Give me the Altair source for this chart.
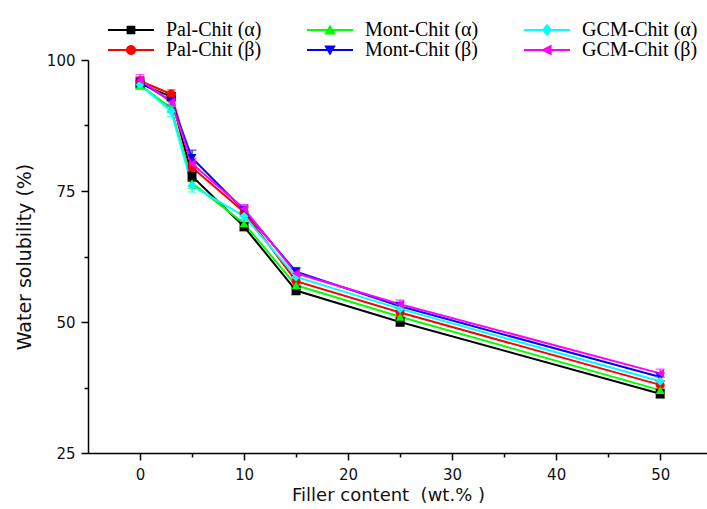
import math
import altair as alt
import pandas as pd

# ---------------- data ----------------
filler = [0, 3, 5, 10, 15, 25, 50]

pal_a = [95.5, 93.0, 77.8, 68.2, 56.0, 50.0, 36.3]
pal_b = [96.0, 93.5, 79.5, 71.0, 57.8, 51.8, 38.0]
mont_a = [95.2, 90.8, 76.5, 68.8, 57.0, 51.0, 37.0]
mont_b = [95.8, 92.2, 81.3, 71.3, 59.6, 53.0, 39.5]
gcm_a = [95.3, 90.2, 76.0, 70.2, 58.6, 52.5, 38.7]
gcm_b = [96.2, 92.0, 80.2, 71.6, 59.3, 53.4, 40.2]

err_pal_a = [1.0, 0.8, 1.0, 0.8, 0.8, 0.8, 0.8]
err_pal_b = [0.8, 0.8, 1.0, 0.8, 0.8, 0.8, 0.8]
err_mont_a = [0.8, 0.8, 1.0, 0.8, 0.8, 0.8, 0.8]
err_mont_b = [0.8, 0.8, 1.5, 0.8, 0.8, 0.8, 0.8]
err_gcm_a = [0.8, 1.0, 1.2, 0.8, 0.8, 0.8, 0.8]
err_gcm_b = [1.0, 0.8, 1.0, 0.8, 0.8, 0.8, 0.8]

series_data = [
    ("Pal-Chit (α)", pal_a, err_pal_a),
    ("Pal-Chit (β)", pal_b, err_pal_b),
    ("Mont-Chit (α)", mont_a, err_mont_a),
    ("Mont-Chit (β)", mont_b, err_mont_b),
    ("GCM-Chit (α)", gcm_a, err_gcm_a),
    ("GCM-Chit (β)", gcm_b, err_gcm_b),
]

# legend order (entries fill the 3 columns top-to-bottom)
legend_order = ["Pal-Chit (α)", "Pal-Chit (β)", "Mont-Chit (α)",
                "Mont-Chit (β)", "GCM-Chit (α)", "GCM-Chit (β)"]
colors = ["#000000", "#FF0000", "#00FF00", "#0000FF", "#00FFFF", "#FF00FF"]
shapes = ["square", "circle", "triangle-up", "triangle-down", "diamond", "triangle-left"]

x_major = [0, 10, 20, 30, 40, 50]
x_minor = [5, 15, 25, 35, 45]
y_major = [25, 50, 75, 100]
y_minor = [37.5, 62.5, 87.5]

rows = []
for name, vals, errs in series_data:
    for x, v, e in zip(filler, vals, errs):
        rows.append({"series": name, "filler": x, "value": v, "lo": v - e, "hi": v + e})
df = pd.DataFrame(rows)

# ---------------- legend symbols: line + marker as one path ----------------
LINE = "M-1,-0.045H1V0.045H-1Z"


def poly(pts):
    return "M" + "L".join(f"{x:.3f},{y:.3f}" for x, y in pts) + "Z"


circle_pts = [(0.22 * math.cos(2 * math.pi * k / 20), 0.22 * math.sin(2 * math.pi * k / 20)) for k in range(20)]
marker_paths = {
    "square": "M-0.19,-0.19H0.19V0.19H-0.19Z",
    "circle": poly(circle_pts),
    "triangle-up": poly([(0, -0.24), (0.25, 0.2), (-0.25, 0.2)]),
    "triangle-down": poly([(0, 0.24), (-0.25, -0.2), (0.25, -0.2)]),
    "diamond": poly([(0, -0.27), (0.22, 0), (0, 0.27), (-0.22, 0)]),
    "triangle-left": poly([(-0.26, 0), (0.2, -0.24), (0.2, 0.24)]),
}
legend_paths = [LINE + marker_paths[s] for s in shapes]

# ---------------- scales ----------------
xs = alt.Scale(domain=[-5, 54.5], nice=False, zero=False)
ys = alt.Scale(domain=[25, 100], nice=False, zero=False)
cscale = alt.Scale(domain=legend_order, range=colors)

axis_common = dict(
    grid=False, domainColor="black", domainWidth=1.5, tickColor="black", tickWidth=1.5,
    labelFont="DejaVu Sans", labelFontSize=15, labelColor="#111111",
    titleFont="DejaVu Sans", titleFontWeight="normal", titleColor="#111111",
)

x_axis_major = alt.Axis(orient="bottom", values=x_major, tickSize=7, labelPadding=7,
                        title="Filler content\u00a0 (wt.%\u00a0)", titleFontSize=18,
                        titlePadding=4, titleX=300, titleAlign="center", **axis_common)
y_axis_major = alt.Axis(orient="left", values=y_major, tickSize=7, labelPadding=6,
                        title="Water solubility (%)", titleFontSize=19, titlePadding=12,
                        **axis_common)
x_axis_minor = alt.Axis(orient="bottom", values=x_minor, tickSize=4, labels=False, domain=False,
                        title=None, grid=False, tickColor="black", tickWidth=1.5)
y_axis_minor = alt.Axis(orient="left", values=y_minor, tickSize=4, labels=False, domain=False,
                        title=None, grid=False, tickColor="black", tickWidth=1.5)

base = alt.Chart(df)

lines = base.mark_line(strokeWidth=2).encode(
    x=alt.X("filler:Q", scale=xs, axis=x_axis_major),
    y=alt.Y("value:Q", scale=ys, axis=y_axis_major),
    color=alt.Color("series:N", scale=cscale, legend=None),
    order=alt.Order("filler:Q"),
)

errs = base.mark_errorbar(ticks=True, size=9, thickness=1.2).encode(
    x=alt.X("filler:Q", scale=xs, axis=None),
    y=alt.Y("lo:Q", scale=ys, axis=None),
    y2="hi:Q",
    color=alt.Color("series:N", scale=cscale, legend=None),
)

pts = base.mark_point(filled=True, size=80, opacity=1).encode(
    x=alt.X("filler:Q", scale=xs, axis=None),
    y=alt.Y("value:Q", scale=ys, axis=None),
    color=alt.Color("series:N", scale=cscale, legend=None),
    shape=alt.Shape("series:N", scale=alt.Scale(domain=legend_order, range=shapes), legend=None),
)

leg = alt.Legend(
    title=None, orient="none", legendX=20, legendY=-39, columns=3,
    columnPadding=45, rowPadding=0, clipHeight=18, symbolSize=2116,
    symbolStrokeWidth=0, symbolOpacity=1, labelFont="Liberation Serif",
    labelFontSize=20, labelColor="black", labelOffset=12, padding=0, labelLimit=400,
)

legend_layer = base.transform_filter("datum.filler < -100").mark_point(filled=True, opacity=1).encode(
    x=alt.X("filler:Q", scale=xs, axis=x_axis_minor),
    y=alt.Y("value:Q", scale=ys, axis=y_axis_minor),
    color=alt.Color("series:N", scale=cscale, legend=leg),
    shape=alt.Shape("series:N", scale=alt.Scale(domain=legend_order, range=legend_paths), legend=leg),
)

chart = (
    alt.layer(lines, errs, pts, legend_layer)
    .resolve_scale(color="independent", shape="independent")
    .resolve_axis(x="independent", y="independent")
    .properties(
        width=619, height=393,
        autosize=alt.AutoSizeParams(type="none"),
        padding={"left": 88, "top": 60, "right": 0, "bottom": 56},
        background="white",
    )
    .configure_view(stroke=None)
)

chart.save("out.html", embed_options={"renderer": "svg", "actions": False})
